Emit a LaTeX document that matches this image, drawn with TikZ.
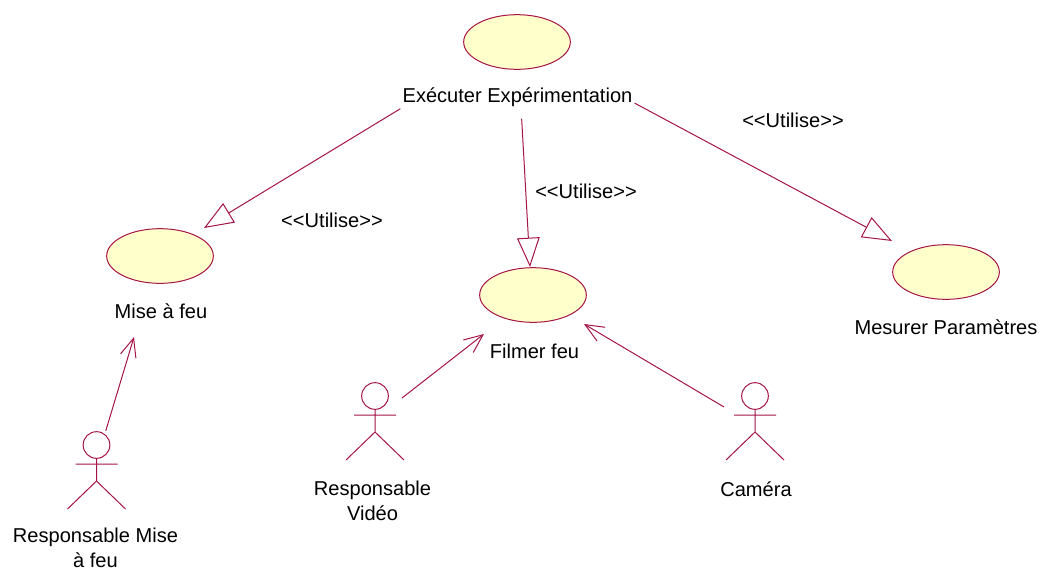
\documentclass[tikz,border=0pt]{standalone}
\usepackage{fontspec}
\setmainfont{Liberation Sans}
\usepackage{xcolor}
\usetikzlibrary{arrows.meta, shapes.geometric}
\definecolor{umlline}{RGB}{165,20,70}
\definecolor{umlfill}{RGB}{255,255,204}
\tikzset{
	usecase/.style={draw=umlline, fill=umlfill, ellipse, line width=0.75pt, inner sep=0pt, minimum width=80pt, minimum height=41pt},
	lbl/.style={align=center, inner sep=1.5pt, font=\fontsize{15.05}{18.5}\selectfont},
	utilise/.style={draw=umlline, line width=0.75pt, -{Triangle[open, fill=white, length=22pt, width=17pt]}},
	assoc/.style={draw=umlline, line width=0.75pt, -{Straight Barb[length=14pt, width=12pt, line width=0.75pt]}},
	actorhead/.style={draw=umlline, circle, line width=0.75pt, inner sep=0pt, minimum size=20pt},
	actorfig/.pic={
		\node[actorhead] at (0,0) (-head) {};
		\draw[umlline, line width=0.75pt]
			(-head) -- (0,36) (-21,19) -- (21,19)
			(-29,64) -- (0,36) -- (29,64);
	}
}

\begin{document}
\begin{tikzpicture}[x=0.75pt, y=-0.75pt]
	\useasboundingbox (0,0) rectangle (1042,569);

	\node[usecase] at (517,42) (exec) {};
	\node[lbl] at (517.5,97) (execlabel) {Exécuter Expérimentation};
	\node[usecase] at (160,256) (mise) {};
	\node[lbl] at (161,311) (miselabel) {Mise à feu};
	\node[usecase] at (533,295) (filmer) {};
	\node[lbl] at (534.5,351) (filmerlabel) {Filmer feu};
	\node[usecase] at (946,272) (mesurer) {};
	\node[lbl] at (946,327) (mesurerlabel) {Mesurer Paramètres};

	\pic (respmise) at (96.5,445) {actorfig};
	\node[lbl] at (95.5,547.5) (respmiselabel) {Responsable Mise\\à feu};
	\pic (respvideo) at (375,396) {actorfig};
	\node[lbl] at (372.5,501) (respvideolabel) {Responsable\\Vidéo};
	\pic (camera) at (755,396) {actorfig};
	\node[lbl] at (756,489) (cameralabel) {Caméra};

	\node[lbl] at (332,220) (utilisemise) {<{}<Utilise>{}>};
	\node[lbl] at (586,191) (utilisefilmer) {<{}<Utilise>{}>};
	\node[lbl] at (793,120) (utilisemesurer) {<{}<Utilise>{}>};

	\coordinate (misetip) at (204,228);
	\coordinate (filmertip) at (530,267);
	\coordinate (mesurertip) at (892,241);
	\coordinate (misearrow) at (134,337);
	\coordinate (filmerleft) at (484,334);
	\coordinate (filmerright) at (584,324);
	\coordinate (videostart) at (402,398);
	\coordinate (camerastart) at (724,407);

	\draw[utilise] (execlabel.south west) -- (misetip);
	\draw[utilise, shorten <=7.5pt] (execlabel.-73) -- (filmertip);
	\draw[utilise] (execlabel.-3) -- (mesurertip);

	\draw[assoc, shorten <=2.5pt] (respmise-head.53) -- (misearrow);
	\draw[assoc] (videostart) -- (filmerleft);
	\draw[assoc] (camerastart) -- (filmerright);
\end{tikzpicture}
\end{document}
